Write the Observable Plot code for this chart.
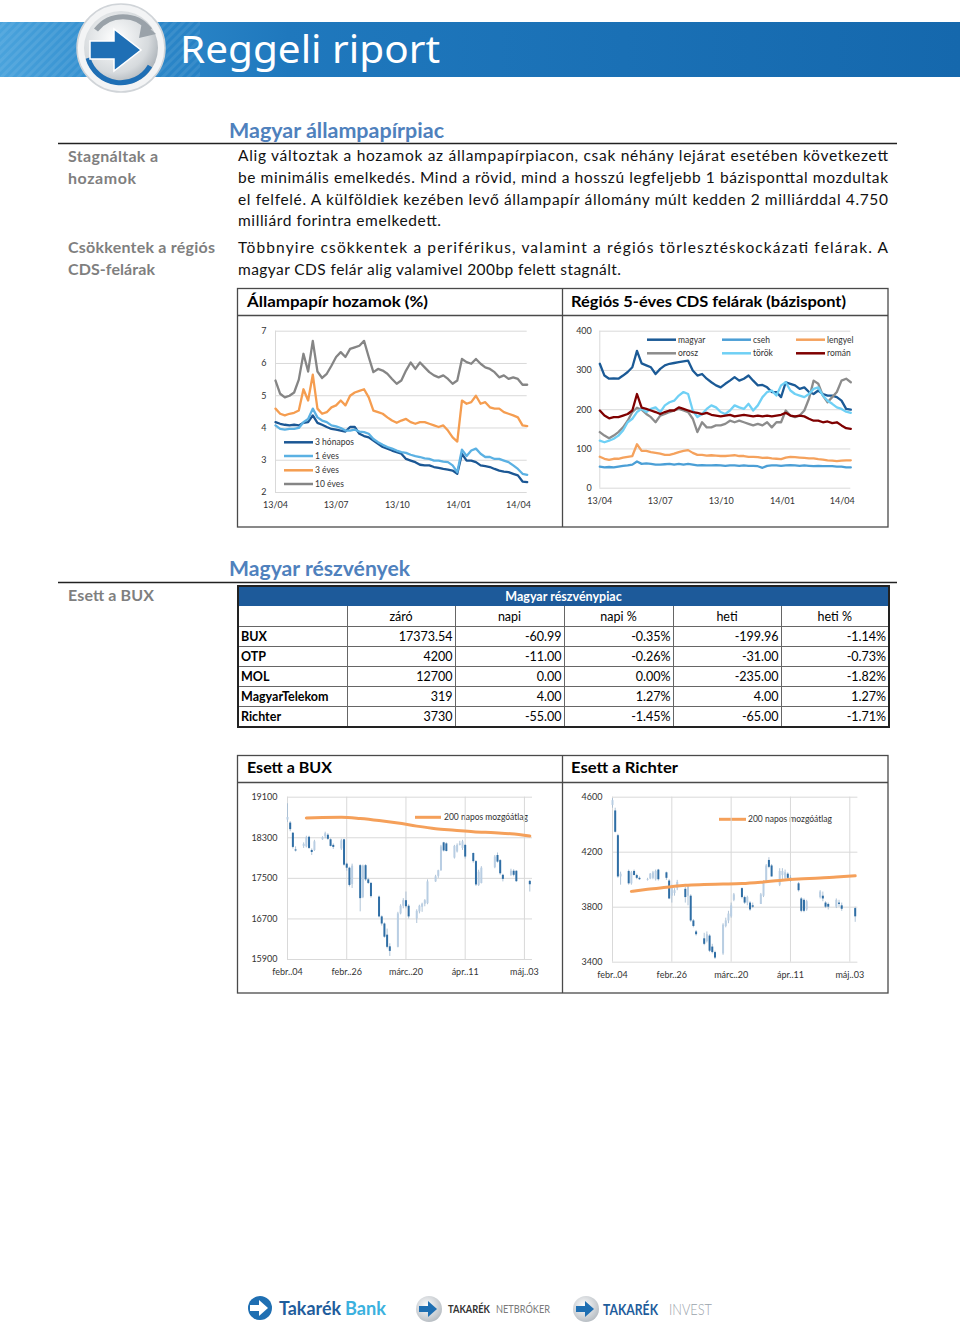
<!DOCTYPE html>
<html><head><meta charset="utf-8">
<script src="https://cdn.jsdelivr.net/npm/d3@7"></script>
<script src="https://cdn.jsdelivr.net/npm/@observablehq/plot@0.6"></script>
<style>
body{margin:0;background:#fff;}
#page{position:relative;width:960px;height:1329px;overflow:hidden;font-family:Lato,"Open Sans",sans-serif;background:#fff;}
.pos{position:absolute;}
#overlay{position:absolute;left:0;top:0;}
#tbl{position:absolute;left:237px;top:585px;width:651px;border-collapse:collapse;font-family:Lato,sans-serif;font-size:12.5px;table-layout:fixed;border:2px solid #222;}
#tbl td{padding:0 2px;border:1px solid #666;height:19px;line-height:17px;white-space:nowrap;overflow:hidden;}
#tbl td.num{text-align:right;}
#tbl td.name{font-weight:bold;text-align:left;}
#tbl tr.head td{background:#1d5a9a;color:#fff;font-weight:bold;text-align:center;height:18px;border-color:#1d5a9a #222;}
#tbl tr.cols td{text-align:center;height:20px;}
</style></head>
<body><div id="page">
<svg id="overlay" width="960" height="1329"></svg>
<div id="c1" class="pos" style="left:240px;top:320px"></div>
<div id="c2" class="pos" style="left:565px;top:320px"></div>
<div id="c3" class="pos" style="left:240px;top:785px"></div>
<div id="c4" class="pos" style="left:565px;top:785px"></div>
<table id="tbl"></table>
</div>
<script>
// ---------- Data: government bond yields (weekly, %) ----------
const weekStart = "2013-04-01";
const yieldSeriesNames = ["3 hónapos","1 éves","3 éves","10 éves"];
const yieldColors = ["#1b5794","#5bb1e3","#f59d50","#858585"];
const yield3m = [4.18,4.13,4.1,4.08,4.1,4.08,4.16,4.18,4.39,4.16,4.1,4.03,3.97,3.95,3.92,3.89,4.03,4.03,3.82,3.75,3.71,3.61,3.51,3.41,3.36,3.3,3.25,3.2,3.04,2.99,2.94,2.86,2.84,2.84,2.79,2.76,2.73,2.71,2.68,2.58,3.2,2.99,2.99,2.94,2.84,2.82,2.79,2.73,2.68,2.65,2.63,2.58,2.53,2.34,2.32];
const yield1y = [4.08,3.97,3.95,3.97,3.97,4.0,4.18,4.28,4.6,4.33,4.23,4.18,4.08,4.05,4.0,3.92,3.92,3.95,3.89,3.87,3.82,3.66,3.56,3.48,3.41,3.36,3.3,3.25,3.23,3.17,3.13,3.1,3.06,3.04,2.99,2.99,2.96,2.94,2.84,2.63,3.33,3.13,3.3,3.36,3.2,3.1,3.1,3.04,3.04,2.99,2.94,2.84,2.73,2.58,2.55];
const yield3y = [4.6,4.44,4.39,4.44,4.47,4.54,5.2,4.85,5.65,4.6,4.44,4.49,4.64,4.7,4.85,4.7,5.0,5.1,5.15,5.2,4.95,4.54,4.49,4.44,4.33,4.23,4.16,4.23,4.28,4.18,4.13,4.18,4.18,4.13,4.08,4.03,4.08,3.92,3.71,3.58,4.85,4.75,4.8,5.0,4.75,4.8,4.64,4.6,4.6,4.49,4.44,4.39,4.33,4.08,4.06];
const yield10y = [5.47,5.06,4.95,5.0,5.1,5.5,6.3,5.75,6.7,5.75,5.55,5.68,5.93,6.2,6.35,6.2,6.45,6.5,6.55,6.7,6.2,5.73,5.83,5.78,5.68,5.52,5.37,5.47,5.78,6.03,5.83,6.03,5.88,5.73,5.63,5.57,5.63,5.52,5.37,5.47,6.14,6.04,5.99,6.14,5.99,5.88,5.83,5.73,5.57,5.63,5.52,5.57,5.52,5.34,5.34];
const yieldYTicks = [2,3,4,5,6,7];
const periodTickDates = ["2013-04-01","2013-07-01","2013-10-01","2014-01-01","2014-04-01"];
const periodEnd = "2014-04-14";

// ---------- Data: regional 5Y CDS (weekly, bp) ----------
const cdsNames = ["magyar","cseh","lengyel","orosz","török","román"];
const cdsColors = ["#1b5a96","#4b9fd6","#f5a25d","#8c8c8c","#6fd0f5","#7f0000"];
const cdsMagyar = [317,287,279,280,279,287,296,308,350,318,313,308,291,304,313,317,319,321,323,325,300,287,291,279,270,262,257,266,274,283,274,279,287,274,262,263,257,245,245,232,270,266,262,253,257,245,240,249,240,236,236,232,223,202,200];
const cdsCseh = [55,53,54,53,55,57,58,60,68,62,63,62,60,60,61,62,60,62,60,62,60,58,59,58,58,59,58,57,58,58,57,58,57,57,56,52,57,58,58,57,58,59,58,57,58,57,56,57,56,56,56,55,55,53,53];
const cdsLengyel = [80,75,72,75,75,78,80,82,112,95,95,92,90,88,85,85,88,92,95,97,90,85,85,83,84,83,82,82,83,84,82,82,80,80,79,77,78,76,75,74,78,80,79,78,77,76,76,74,73,71,70,69,70,71,71];
const cdsOrosz = [143,134,127,134,143,155,172,194,205,200,189,181,168,185,189,194,198,202,198,194,177,143,168,155,155,160,160,164,172,168,172,168,164,160,164,160,168,155,168,168,198,185,181,185,198,228,274,266,236,219,232,245,274,279,270];
const cdsTorok = [121,117,121,126,134,147,168,177,194,202,194,202,206,194,211,219,223,236,245,240,198,181,189,202,211,206,194,189,198,211,206,202,215,198,211,232,245,249,236,262,270,249,240,236,232,240,253,257,236,223,215,206,202,195,192];
const cdsRoman = [198,185,178,181,181,185,189,198,240,205,202,198,194,189,194,198,198,206,202,198,194,192,189,192,187,185,183,185,187,183,185,187,185,183,185,183,185,183,185,187,192,185,183,185,183,177,172,172,168,170,166,168,160,153,151];
const cdsYTicks = [0,100,200,300,400];

// ---------- Data: daily candles 2014 ----------
const tradingDates = ["2014-02-04","2014-02-05","2014-02-06","2014-02-07","2014-02-10","2014-02-11","2014-02-12","2014-02-13","2014-02-14","2014-02-17","2014-02-18","2014-02-19","2014-02-20","2014-02-21","2014-02-24","2014-02-25","2014-02-26","2014-02-27","2014-02-28","2014-03-03","2014-03-04","2014-03-05","2014-03-06","2014-03-07","2014-03-10","2014-03-11","2014-03-12","2014-03-13","2014-03-14","2014-03-17","2014-03-18","2014-03-19","2014-03-20","2014-03-21","2014-03-24","2014-03-25","2014-03-26","2014-03-27","2014-03-28","2014-03-31","2014-04-01","2014-04-02","2014-04-03","2014-04-04","2014-04-07","2014-04-08","2014-04-09","2014-04-10","2014-04-11","2014-04-14","2014-04-15","2014-04-16","2014-04-17","2014-04-22","2014-04-23","2014-04-24","2014-04-25","2014-04-28","2014-04-29","2014-04-30","2014-05-05"];
const buxOpen  = [18650,18590,18390,18060,18130,18120,18310,18050,18050,18260,18320,18350,18260,18150,18080,18260,17780,17700,17380,17750,17120,17750,17470,17400,17130,16740,16600,16380,16150,16140,16800,16950,17060,16950,16700,16840,16930,16990,17000,17430,17540,17650,18200,18180,17900,18020,18150,18090,18150,17990,17830,17360,17400,17710,17950,17850,17560,17560,17640,17640,17440];
const buxHigh  = [18970,18620,18400,18120,18200,18330,18330,18080,18250,18320,18410,18380,18280,18180,18270,18270,17800,17720,17780,17770,17760,17770,17500,17420,17150,16760,16620,16500,16210,16830,16980,17100,17230,16980,16880,16970,17010,17080,17470,17560,17660,18150,18210,18200,18150,18180,18230,18250,18170,18000,17850,17660,17730,17950,18000,17870,17580,17680,17670,17650,17460];
const buxLow   = [18600,18420,18080,18020,18090,18100,18070,17950,18030,18250,18280,18250,18120,18070,18050,17740,17640,17330,17300,16840,17100,17440,17380,17110,16720,16560,16320,16110,15960,16130,16780,16900,16900,16700,16610,16800,16830,16940,16980,17420,17500,17640,18020,18020,17880,18000,18140,18050,17880,17800,17340,17340,17390,17690,17800,17560,17430,17540,17530,17420,17230];
const buxClose = [18700,18460,18110,18040,18170,18300,18090,18010,18220,18300,18380,18270,18130,18110,18240,17760,17700,17360,17740,17100,17740,17470,17400,17140,16740,16600,16340,16140,16060,16800,16950,17060,16940,16740,16850,16950,16990,17060,17430,17530,17650,18120,18040,18030,18130,18150,18180,18220,17920,17830,17370,17620,17700,17920,17820,17590,17480,17640,17560,17435,17374];
const richterOpen  = [4540,4500,4320,4020,4060,3970,4060,4030,4010,3995,4005,4010,4000,4070,4050,3990,3880,3900,3935,3930,3880,3880,3700,3620,3570,3550,3590,3510,3470,3460,3660,3700,3730,3850,3935,3870,3830,3830,3810,3820,3880,3990,4140,4100,3960,4030,4010,4040,4010,3970,3860,3850,3780,3870,3880,3830,3820,3800,3830,3810,3790];
const richterHigh  = [4590,4520,4330,4055,4070,4060,4070,4040,4020,4010,4045,4060,4070,4075,4055,4000,3960,3935,3995,3945,3960,3890,3710,3630,3610,3620,3600,3530,3480,3680,3720,3770,3830,3900,3940,3880,3880,3840,3830,3900,3990,4110,4160,4110,4080,4080,4070,4050,4030,3980,3870,3860,3850,3920,3910,3840,3830,3860,3850,3830,3800];
const richterLow   = [4520,4340,4010,3960,3960,3960,4030,4000,3995,3990,4000,4000,3990,3990,3995,3855,3830,3880,3920,3830,3810,3690,3650,3590,3520,3540,3470,3460,3420,3450,3650,3680,3720,3840,3860,3820,3810,3770,3790,3820,3870,3985,4080,4020,3950,3990,4000,4000,3980,3910,3760,3760,3770,3860,3840,3790,3780,3790,3800,3770,3690];
const richterClose = [4575,4345,4020,4040,3970,4050,4030,4010,4000,4000,4040,4050,4060,4000,4010,3860,3945,3920,3980,3870,3950,3700,3660,3600,3530,3600,3480,3470,3430,3670,3700,3750,3810,3890,3870,3830,3870,3780,3800,3890,3975,4100,4090,4020,4060,4060,4050,4010,3990,3920,3770,3770,3840,3910,3860,3800,3800,3850,3820,3785,3730];
const maDates = ["2014-02-11","2014-02-17","2014-02-24","2014-03-03","2014-03-10","2014-03-17","2014-03-24","2014-03-31","2014-04-07","2014-04-14","2014-04-22","2014-04-28","2014-05-05"];
const buxMA = [18690,18700,18705,18680,18640,18590,18530,18480,18450,18420,18400,18380,18335];
const richterMA = [3915,3930,3945,3960,3965,3968,3972,3982,3995,4005,4012,4020,4028];
const buxYTicks = [15900,16700,17500,18300,19100];
const richterYTicks = [3400,3800,4200,4600];
const candleTickDates = ["2014-02-04","2014-02-26","2014-03-20","2014-04-11","2014-05-03"];
const candleTickLabels = ["febr..04","febr..26","márc..20","ápr..11","máj..03"];
const candleStart = "2014-02-04", candleEnd = "2014-05-06";
const maLabel = "200 napos mozgóátlag";

// ---------- Data: stock table ----------
const tableTitle = "Magyar részvénypiac";
const tableColumns = ["záró","napi","napi %","heti","heti %"];
const stockNames = ["BUX","OTP","MOL","MagyarTelekom","Richter"];
const stockClose = ["17373.54","4200","12700","319","3730"];
const stockDaily = ["-60.99","-11.00","0.00","4.00","-55.00"];
const stockDailyPct = ["-0.35%","-0.26%","0.00%","1.27%","-1.45%"];
const stockWeekly = ["-199.96","-31.00","-235.00","4.00","-65.00"];
const stockWeeklyPct = ["-1.14%","-0.73%","-1.82%","1.27%","-1.71%"];

// ---------- helpers ----------
const D = s => new Date(s + "T00:00:00Z");
const plain = d => String(d);
const weekDates = yield3m.map((_, i) => d3.utcDay.offset(D(weekStart), 7 * i));
const axisStyle = {background:"transparent", fontFamily:"Lato, sans-serif", fontSize:"9px", color:"#333", overflow:"visible"};

// ---------- Chart 1: yields ----------
{
  const vals = [yield3m, yield1y, yield3y, yield10y];
  const rows = vals.flatMap((arr, s) => arr.map((v, i) => ({date: weekDates[i], value: v, series: yieldSeriesNames[s]})));
  const chart = Plot.plot({
    width: 318, height: 200, marginLeft: 35, marginRight: 31.3, marginTop: 10.7, marginBottom: 28,
    style: axisStyle,
    x: {type: "utc", domain: [D(weekStart), D(periodEnd)], ticks: periodTickDates.map(D), tickFormat: d3.utcFormat("%y/%m"), tickSize: 0, tickPadding: 9, label: null},
    y: {domain: [2, 7], ticks: yieldYTicks, tickFormat: plain, tickSize: 0, tickPadding: 9, label: null},
    color: {domain: yieldSeriesNames, range: yieldColors},
    marks: [
      Plot.ruleY(yieldYTicks, {stroke: "#d9d9d9"}),
      Plot.ruleX([D(weekStart)], {stroke: "#d9d9d9"}),
      Plot.line(rows, {x: "date", y: "value", stroke: "series", z: "series", strokeWidth: 2.3})
    ]
  });
  document.getElementById("c1").appendChild(chart);
}
// ---------- Chart 2: CDS ----------
{
  const vals = [cdsMagyar, cdsCseh, cdsLengyel, cdsOrosz, cdsTorok, cdsRoman];
  const rows = vals.flatMap((arr, s) => arr.map((v, i) => ({date: weekDates[i], value: v, series: cdsNames[s]})));
  const chart = Plot.plot({
    width: 318, height: 200, marginLeft: 34.3, marginRight: 32.7, marginTop: 10.7, marginBottom: 32.3,
    style: axisStyle,
    x: {type: "utc", domain: [D(weekStart), D(periodEnd)], ticks: periodTickDates.map(D), tickFormat: d3.utcFormat("%y/%m"), tickSize: 0, tickPadding: 9, label: null},
    y: {domain: [0, 400], ticks: cdsYTicks, tickFormat: plain, tickSize: 0, tickPadding: 8, label: null},
    color: {domain: cdsNames, range: cdsColors},
    marks: [
      Plot.ruleY(cdsYTicks, {stroke: "#d9d9d9"}),
      Plot.ruleX([D(weekStart)], {stroke: "#d9d9d9"}),
      Plot.line(rows, {x: "date", y: "value", stroke: "series", z: "series", strokeWidth: 2.3})
    ]
  });
  document.getElementById("c2").appendChild(chart);
}
// ---------- Candles ----------
function candleChart(el, open, high, low, close, ma, yTicks, margins) {
  const rows = tradingDates.map((d, i) => ({date: D(d), open: open[i], high: high[i], low: low[i], close: close[i]}));
  const up = rows.filter(r => r.close >= r.open), down = rows.filter(r => r.close < r.open);
  const maRows = maDates.map((d, i) => ({date: D(d), value: ma[i]}));
  const labelOf = new Map(candleTickDates.map((d, i) => [D(d).getTime(), candleTickLabels[i]]));
  const chart = Plot.plot({
    width: 318, height: 200, ...margins,
    style: axisStyle,
    x: {type: "utc", domain: [D(candleStart), D(candleEnd)], ticks: candleTickDates.map(D), tickFormat: d => labelOf.get(d.getTime()), tickSize: 0, tickPadding: 9, label: null},
    y: {domain: [yTicks[0], yTicks[yTicks.length - 1]], ticks: yTicks, tickFormat: plain, tickSize: 0, tickPadding: 10, label: null},
    marks: [
      Plot.ruleY(yTicks, {stroke: "#d9d9d9"}),
      Plot.ruleX(candleTickDates.map(D), {stroke: "#d9d9d9"}),
      Plot.ruleX(rows, {x: "date", y1: "low", y2: "high", stroke: "#a7bdd3", strokeWidth: 0.9}),
      Plot.ruleX(up, {x: "date", y1: "open", y2: "close", stroke: "#b9cee3", strokeWidth: 2}),
      Plot.ruleX(down, {x: "date", y1: "open", y2: "close", stroke: "#2f6ea5", strokeWidth: 2}),
      Plot.line(maRows, {x: "date", y: "value", stroke: "#f5a05a", strokeWidth: 3, curve: "monotone-x"})
    ]
  });
  document.getElementById(el).appendChild(chart);
}
candleChart("c3", buxOpen, buxHigh, buxLow, buxClose, buxMA, buxYTicks, {marginLeft: 47, marginRight: 26, marginTop: 11.7, marginBottom: 26});
candleChart("c4", richterOpen, richterHigh, richterLow, richterClose, richterMA, richterYTicks, {marginLeft: 47, marginRight: 25.6, marginTop: 11.7, marginBottom: 23.3});

// ---------- Table ----------
{
  const t = document.getElementById("tbl");
  const widths = [109,108,109,109,108,108];
  let html = "<colgroup>" + widths.map(w => `<col style="width:${w}px">`).join("") + "</colgroup>";
  html += `<tr class="head"><td colspan="6">${tableTitle}</td></tr>`;
  html += `<tr class="cols"><td></td>${tableColumns.map(c => `<td>${c}</td>`).join("")}</tr>`;
  stockNames.forEach((n, i) => {
    html += `<tr><td class="name">${n}</td><td class="num">${stockClose[i]}</td><td class="num">${stockDaily[i]}</td><td class="num">${stockDailyPct[i]}</td><td class="num">${stockWeekly[i]}</td><td class="num">${stockWeeklyPct[i]}</td></tr>`;
  });
  t.innerHTML = html;
}

// ---------- Static page layer ----------
{
  const svg = document.getElementById("overlay");
  let s = `
  <defs>
    <linearGradient id="bar" x1="0" x2="1"><stop offset="0" stop-color="#4aa3dc"/><stop offset="0.12" stop-color="#2f8bcc"/><stop offset="0.3" stop-color="#1f78bd"/><stop offset="1" stop-color="#1568ad"/></linearGradient>
    <radialGradient id="ball" cx="0.42" cy="0.38" r="0.65"><stop offset="0" stop-color="#ffffff"/><stop offset="0.7" stop-color="#d6dadd"/><stop offset="1" stop-color="#a9b0b6"/></radialGradient>
    <radialGradient id="ball2" cx="0.42" cy="0.38" r="0.65"><stop offset="0" stop-color="#ffffff"/><stop offset="1" stop-color="#b6bcc2"/></radialGradient>
    <pattern id="stripes" width="6" height="6" patternUnits="userSpaceOnUse" patternTransform="rotate(45)"><rect width="3" height="6" fill="#ffffff" fill-opacity="0.08"/></pattern>
  </defs>
  <rect x="0" y="22" width="960" height="55" fill="url(#bar)"/>
  <rect x="0" y="22" width="200" height="55" fill="url(#stripes)"/>
  <circle cx="121" cy="48" r="44" fill="#f3f4f5" stroke="#d0d4d8" stroke-width="1.5"/>
  <circle cx="121" cy="48" r="37" fill="url(#ball)"/>
  <path d="M88 58 A34 34 0 0 0 150 66" fill="none" stroke="#1f6fb5" stroke-width="5"/>
  <path d="M96 30 A34 34 0 0 1 150 30" fill="none" stroke="#9aa2a9" stroke-width="5"/>
  <path d="M142 22 L156 34 L139 38 Z" fill="#9aa2a9"/>
  <path d="M90 41 L114 41 L114 29 L141 50 L114 71 L114 59 L90 59 Z" fill="#1f6fb5" stroke="#ffffff" stroke-width="1.5"/>
  <text x="180" y="63" fill="#ffffff" font-family="'Noto Sans',sans-serif" font-size="39" textLength="260" lengthAdjust="spacingAndGlyphs">Reggeli riport</text>

  <text x="229" y="138" fill="#4f81bd" font-size="20" font-weight="bold" textLength="215" lengthAdjust="spacingAndGlyphs">Magyar állampapírpiac</text>
  <line x1="58" x2="897" y1="143.5" y2="143.5" stroke="#222" stroke-width="1.5"/>
  <g fill="#7f7f7f" font-size="16" font-weight="bold">
    <text x="68" y="162" textLength="90">Stagnáltak a</text>
    <text x="68" y="184" textLength="68">hozamok</text>
    <text x="68" y="253" textLength="147">Csökkentek a régiós</text>
    <text x="68" y="275" textLength="87">CDS-felárak</text>
    <text x="68" y="601" textLength="86">Esett a BUX</text>
  </g>
  <g fill="#111" font-size="15.5">
    <text x="238" y="161" textLength="650" lengthAdjust="spacing">Alig változtak a hozamok az állampapírpiacon, csak néhány lejárat esetében következett</text>
    <text x="238" y="183" textLength="650" lengthAdjust="spacing">be minimális emelkedés. Mind a rövid, mind a hosszú legfeljebb 1 bázisponttal mozdultak</text>
    <text x="238" y="204.5" textLength="650" lengthAdjust="spacing">el felfelé. A külföldiek kezében levő állampapír állomány múlt kedden 2 milliárddal 4.750</text>
    <text x="238" y="226" textLength="203" lengthAdjust="spacing">milliárd forintra emelkedett.</text>
    <text x="238" y="253" textLength="650" lengthAdjust="spacing">Többnyire csökkentek a periférikus, valamint a régiós törlesztéskockázati felárak. A</text>
    <text x="238" y="274.5" textLength="383" lengthAdjust="spacing">magyar CDS felár alig valamivel 200bp felett stagnált.</text>
  </g>

  <g fill="none" stroke="#4a4a4a" stroke-width="1.3">
    <rect x="237.5" y="288.5" width="650.5" height="238.5"/>
    <line x1="562.5" x2="562.5" y1="288.5" y2="527"/>
    <line x1="237.5" x2="888" y1="315.5" y2="315.5"/>
    <rect x="237.5" y="755.5" width="650.5" height="237.5"/>
    <line x1="562.5" x2="562.5" y1="755.5" y2="993"/>
    <line x1="237.5" x2="888" y1="782.5" y2="782.5"/>
  </g>
  <g fill="#000" font-size="16" font-weight="bold">
    <text x="247" y="307" textLength="181" lengthAdjust="spacingAndGlyphs">Állampapír hozamok (%)</text>
    <text x="571" y="307" textLength="275" lengthAdjust="spacingAndGlyphs">Régiós 5-éves CDS felárak (bázispont)</text>
    <text x="247" y="773" textLength="85" lengthAdjust="spacingAndGlyphs">Esett a BUX</text>
    <text x="571" y="773" textLength="107" lengthAdjust="spacingAndGlyphs">Esett a Richter</text>
  </g>

  <text x="229" y="576" fill="#4f81bd" font-size="20" font-weight="bold" textLength="181" lengthAdjust="spacingAndGlyphs">Magyar részvények</text>
  <line x1="58" x2="897" y1="582.5" y2="582.5" stroke="#222" stroke-width="1.5"/>
  `;
  // legends
  const yLegY = [442.3, 456, 470.3, 484];
  yieldSeriesNames.forEach((n, i) => {
    s += `<line x1="284" x2="313" y1="${yLegY[i]}" y2="${yLegY[i]}" stroke="${yieldColors[i]}" stroke-width="2.5"/>
    <text x="315" y="${yLegY[i] + 3}" font-size="8.5" fill="#333">${n}</text>`;
  });
  const cLegX = [647, 722, 796], cLegY = [339.7, 353.3];
  cdsNames.forEach((n, i) => {
    const cx = cLegX[i % 3], cy = cLegY[Math.floor(i / 3)];
    s += `<line x1="${cx}" x2="${cx + 29}" y1="${cy}" y2="${cy}" stroke="${cdsColors[i]}" stroke-width="2.5"/>
    <text x="${cx + 31}" y="${cy + 3}" font-size="8.5" fill="#333">${n}</text>`;
  });
  s += `<line x1="415" x2="441" y1="817.3" y2="817.3" stroke="#f5a05a" stroke-width="3"/>
  <text x="444" y="820.3" font-size="8.5" fill="#333">${maLabel}</text>
  <line x1="719" x2="746" y1="819.3" y2="819.3" stroke="#f5a05a" stroke-width="3"/>
  <text x="748" y="822.3" font-size="8.5" fill="#333">${maLabel}</text>`;
  // footer logos (separate text pieces, small gaps)
  s += `
  <circle cx="260" cy="1308" r="12" fill="#1f6fb2"/>
  <path d="M250 1305 L259 1305 L259 1300 L268 1308 L259 1316 L259 1311 L250 1311 Z" fill="#ffffff"/>
  <text x="279" y="1315" font-size="18" font-weight="bold" fill="#1f5d9c" textLength="62" lengthAdjust="spacingAndGlyphs">Takarék</text>
  <text x="345" y="1315" font-size="18" font-weight="bold" fill="#3bb1de" textLength="41" lengthAdjust="spacingAndGlyphs">Bank</text>
  <circle cx="429" cy="1309" r="13" fill="url(#ball2)"/>
  <path d="M419 1306 L428 1306 L428 1301 L437 1309 L428 1317 L428 1312 L419 1312 Z" fill="#1f6fb2"/>
  <text x="448" y="1313" font-size="11.5" font-weight="bold" fill="#333" textLength="42" lengthAdjust="spacingAndGlyphs">TAKARÉK</text>
  <text x="496" y="1313" font-size="11.5" fill="#7a7a7a" textLength="54" lengthAdjust="spacingAndGlyphs">NETBRÓKER</text>
  <circle cx="586" cy="1309" r="13" fill="url(#ball2)"/>
  <path d="M576 1306 L585 1306 L585 1301 L594 1309 L585 1317 L585 1312 L576 1312 Z" fill="#1f6fb2"/>
  <text x="603" y="1315" font-size="15" font-weight="bold" fill="#1f5d9c" textLength="55" lengthAdjust="spacingAndGlyphs">TAKARÉK</text>
  <text x="669" y="1315" font-size="15" font-weight="300" fill="#9aa3ab" textLength="43" lengthAdjust="spacingAndGlyphs">INVEST</text>
  `;
  svg.innerHTML = s;
}
</script>
</body></html>
